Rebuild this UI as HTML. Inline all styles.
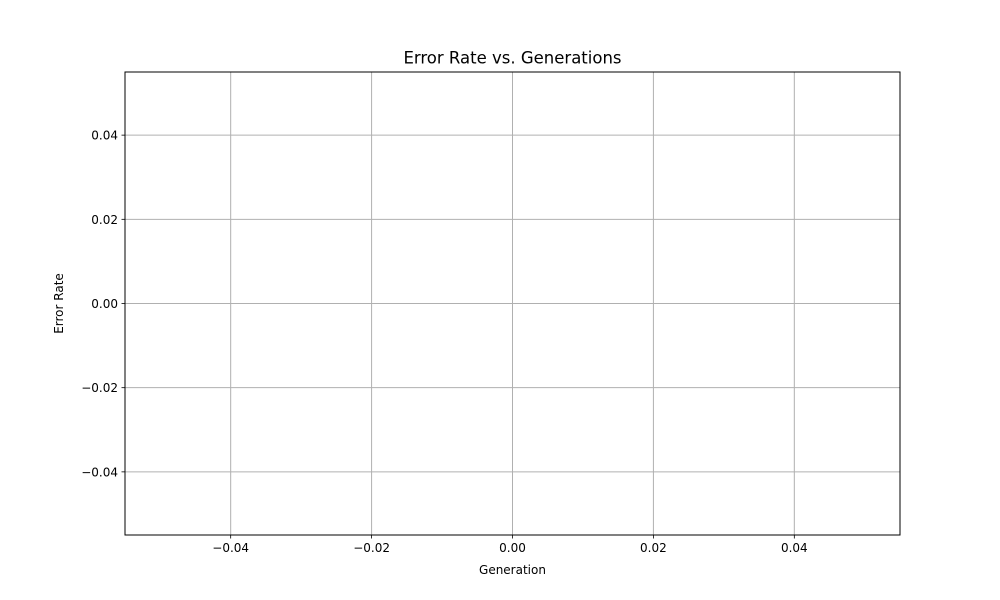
<!DOCTYPE html>
<html>
<head>
<meta charset="utf-8">
<style>
  html,body{margin:0;padding:0;background:#fff;}
  svg{display:block;font-family:"DejaVu Sans","Liberation Sans",sans-serif;}
</style>
</head>
<body>
<svg id="chart" width="1000" height="600" viewBox="0 0 1000 600">
  <rect x="0" y="0" width="1000" height="600" fill="#fff"/>
  <g id="grid"></g>
  <g id="series"></g>
  <rect x="125" y="72" width="775" height="463" fill="none" stroke="#000" stroke-width="1"/>
  <g id="xticks"></g>
  <g id="yticks"></g>
  <text x="512.5" y="63.5" text-anchor="middle" font-size="16.5" fill="#000">Error Rate vs. Generations</text>
  <text x="512.5" y="574" text-anchor="middle" font-size="12" fill="#000">Generation</text>
  <text x="63" y="303.5" text-anchor="middle" font-size="12" fill="#000" transform="rotate(-90 63 303.5)">Error Rate</text>
</svg>
<script>
const xTicks = [-0.04, -0.02, 0.00, 0.02, 0.04];
const yTicks = [-0.04, -0.02, 0.00, 0.02, 0.04];
const generations = [];
const errorRates = [];
const xDomain = [-0.055, 0.055];
const yDomain = [-0.055, 0.055];

const L=125,R=900,T=72,B=535;
function xs(v){return L+(v-xDomain[0])/(xDomain[1]-xDomain[0])*(R-L);}
function ys(v){return B-(v-yDomain[0])/(yDomain[1]-yDomain[0])*(B-T);}
const NS="http://www.w3.org/2000/svg";
function mk(tag,attrs,parent){const e=document.createElementNS(NS,tag);for(const k in attrs)e.setAttribute(k,attrs[k]);parent.appendChild(e);return e;}
const grid=document.getElementById('grid'),xg=document.getElementById('xticks'),yg=document.getElementById('yticks'),sg=document.getElementById('series');

xTicks.forEach(v=>{
  const x=xs(v);
  const gl=mk('line',{x1:x,x2:x,y1:T,y2:B,stroke:'#b0b0b0','stroke-width':1},grid);
  
  
  const tk=mk('line',{x1:x,x2:x,y1:B,y2:B+3.5,stroke:'#000','stroke-width':0.8},xg);
  
  
  const t=mk('text',{x:x,y:B+17,'text-anchor':'middle','font-size':12,fill:'#000'},xg);
  t.textContent=v.toFixed(2).replace('-','\u2212');
  
  
});
yTicks.forEach(v=>{
  const y=ys(v);
  const gl=mk('line',{x1:L,x2:R,y1:y,y2:y,stroke:'#b0b0b0','stroke-width':1},grid);
  
  
  const tk=mk('line',{x1:L-3.5,x2:L,y1:y,y2:y,stroke:'#000','stroke-width':0.8},yg);
  
  
  const t=mk('text',{x:L-7,y:y+4.5,'text-anchor':'end','font-size':12,fill:'#000'},yg);
  t.textContent=v.toFixed(2).replace('-','\u2212');
  
  
});
if(generations.length){
  const pts=generations.map((g,i)=>xs(g)+','+ys(errorRates[i])).join(' ');
  const pl=mk('polyline',{points:pts,fill:'none',stroke:'#1f77b4','stroke-width':1.5},sg);
  
  
}
</script>
</body>
</html>
